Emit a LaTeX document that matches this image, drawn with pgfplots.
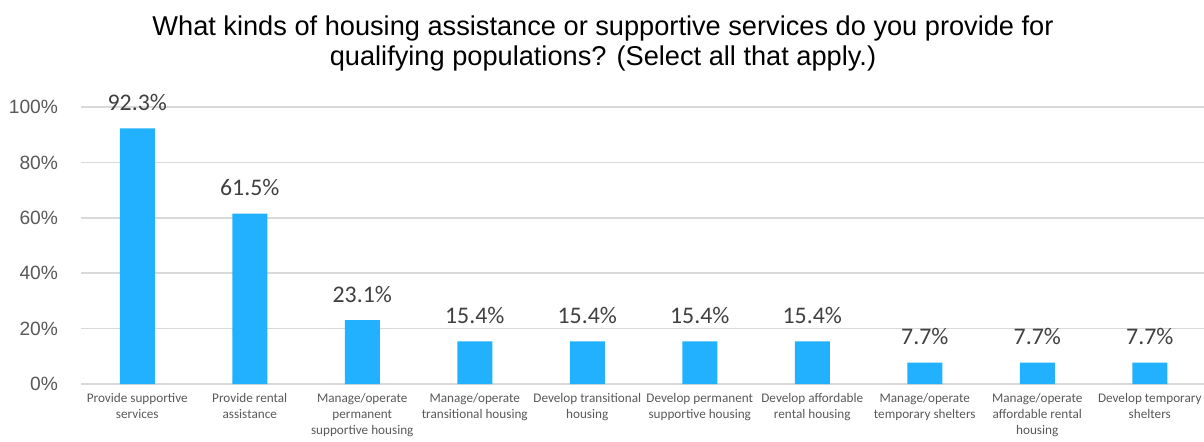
\documentclass[border=0pt]{standalone}
\usepackage{fontspec}
\setmainfont{Liberation Sans}
\newfontfamily\calibri{Carlito}
\usepackage{pgfplots}
\pgfplotsset{compat=1.18}
\definecolor{barblue}{HTML}{21B1FF}
\definecolor{gridgray}{HTML}{D9D9D9}
\definecolor{txtgray}{HTML}{595959}
\definecolor{lblgray}{HTML}{404040}
\begin{document}
\begin{tikzpicture}
\useasboundingbox (0,0) rectangle (602pt,220.5pt);
\node[anchor=base, font=\fontsize{13.6}{15}\selectfont, text=black] at (301.5pt,203pt)
  {What kinds of housing assistance or supportive services do you provide for};
\node[anchor=base, font=\fontsize{13.6}{15}\selectfont, text=black] at (301.5pt,188pt)
  {qualifying populations? (Select all that apply.)};
\begin{axis}[
  at={(40.5pt,28.5pt)}, anchor=south west,
  scale only axis, width=562.5pt, height=138.5pt,
  xmin=-0.5, xmax=9.5, ymin=0, ymax=100,
  axis line style={draw=none},
  major tick length=0pt,
  ytick={0,20,40,60,80,100},
  yticklabel={\pgfmathprintnumber{\tick}\%},
  /pgf/number format/assume math mode=true,
  yticklabel style={font=\fontsize{9.6}{11}\selectfont, text=txtgray, xshift=-8pt},
  ymajorgrids, grid style={color=gridgray, line width=0.8pt},
  xtick={0,...,9},
  xticklabels={{Provide supportive\\services},{Provide rental\\assistance},{Manage/operate\\permanent\\supportive housing},{Manage/operate\\transitional housing},{Develop transitional\\housing},{Develop permanent\\supportive housing},{Develop affordable\\rental housing},{Manage/operate\\temporary shelters},{Manage/operate\\affordable rental\\housing},{Develop temporary\\shelters}},
  xticklabel style={align=center, font=\calibri\fontsize{6.6}{8}\selectfont, text=txtgray, yshift=-1pt},
  nodes near coords={\pgfmathprintnumber[fixed,fixed zerofill,precision=1]{\pgfplotspointmeta}\%},
  every node near coord/.append style={anchor=base, yshift=9pt, font=\calibri\fontsize{11.9}{13}\selectfont, text=lblgray},
  clip=false,
]
\addplot[ybar, bar width=17.5pt, fill=barblue, draw=none] coordinates {
(0,92.3) (1,61.5) (2,23.1) (3,15.4) (4,15.4) (5,15.4) (6,15.4) (7,7.7) (8,7.7) (9,7.7)};
\end{axis}
\end{tikzpicture}
\end{document}
